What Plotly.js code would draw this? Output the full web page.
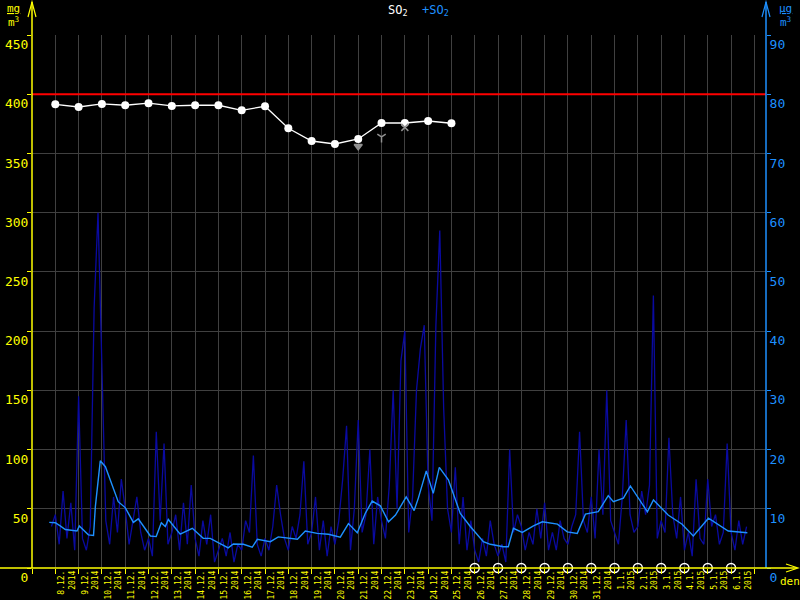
<!DOCTYPE html>
<html><head><meta charset="utf-8">
<script src="https://cdn.plot.ly/plotly-3.0.1.min.js"></script>
<style>html,body{margin:0;padding:0;background:#000;}#chart{width:800px;height:600px;}</style>
</head><body><div id="chart"></div>
<script>
// ---- data ----
const dayLabels = ['8.12.','9.12.','10.12.','11.12.','12.12.','13.12.','14.12.','15.12.','16.12.','17.12.','18.12.','19.12.','20.12.','21.12.','22.12.','23.12.','24.12.','25.12.','26.12.','27.12.','28.12.','29.12.','30.12.','31.12.','1.1.','2.1.','3.1.','4.1.','5.1.','6.1.'];
const dayYears = ['2014','2014','2014','2014','2014','2014','2014','2014','2014','2014','2014','2014','2014','2014','2014','2014','2014','2014','2014','2014','2014','2014','2014','2014','2015','2015','2015','2015','2015','2015'];

// daily values (left axis), one per day starting at day 0 = 8.12.2014
const dailyDay = [0,1,2,3,4,5,6,7,8,9,10,11,12,13,14,15,16,17];
const dailyVal = [391.5,389.2,391.8,390.7,392.4,390.1,390.7,390.7,386.4,389.8,371.2,360.5,358.0,362.2,375.7,375.7,377.4,375.5];

// days without daily value (marked on the axis)
const missingDay = [18,19,20,21,22,23,24,25,26,27,28,29];

// grey flags near the daily line
const flagDay = [13,14,15];
const flagVal = [356,364,372];

// limit
const limitVal = 400;

// 4-hourly values (right axis), first sample at day -1/6, step 1/6 day
const hourlyStart = -1/6;
const hourlyStep = 1/6;
const hourlyVal = [
7,
9,4,13,5,11,3,
29,5,3,7,44,60,
32,8,4,12,6,15,
10,4,8,12,6,3,
5,2,23,8,21,4,
6,9,3,11,4,14,
5,2,8,4,9,1,
3,5,2,6,1,4,
3,8,6,19,4,2,
5,3,7,14,9,5,
3,7,5,9,18,4,
6,12,3,8,2,7,
4,8,15,24,3,10,
25,6,9,20,4,12,
8,5,14,30,10,35,
40,6,12,30,37,41,
14,8,41,57,27,10,
6,17,4,12,3,8,
3,1,5,2,8,4,
2,4,1,20,6,9,
7,3,6,4,10,5,
11,3,6,3,8,5,
4,7,9,23,8,6,
12,5,20,9,30,8,
6,4,12,25,9,6,
7,13,9,14,46,5,
8,6,22,9,5,12,
3,6,2,15,5,4,
15,7,9,4,6,21,
6,3,8,4,7
];

// running mean (right axis)
const smoothDay = [-0.26,0,0.21,0.43,0.93,1.03,1.42,1.64,1.72,1.93,2.15,2.70,3.0,3.35,3.56,4.08,4.33,4.55,4.72,4.85,5.36,5.88,6.35,6.65,7.42,7.64,8.07,8.45,8.67,8.93,9.23,9.57,10.39,10.73,11.24,11.72,12.23,12.58,12.96,13.3,13.6,13.95,14.3,14.6,15.06,15.4,15.58,15.92,16.22,16.48,16.87,17.38,17.81,18.37,18.67,19.23,19.44,19.66,20.04,20.52,20.9,21.55,21.97,22.4,22.75,23.3,23.73,23.95,24.38,24.68,25.41,25.67,26.3,26.9,27.38,28.03,28.88,29.7];
const smoothVal = [7.7,7.65,7.1,6.5,6.25,7.1,5.6,5.5,10.4,18.1,17.1,11.2,10.2,7.7,8.3,5.4,5.3,7.65,7.0,8.2,5.7,6.7,5.0,5.0,3.4,4.05,4.0,3.5,4.85,4.7,4.45,5.25,4.85,6.25,5.85,5.7,5.2,7.5,5.95,9.2,11.3,10.5,7.8,8.95,12.0,9.7,11.8,16.4,12.6,17.0,14.9,9.2,7.0,4.45,4.0,3.6,3.6,6.7,6.0,7.1,7.8,7.4,6.1,5.85,9.1,9.5,12.2,11.2,11.8,13.85,9.5,11.5,8.95,7.4,5.4,8.4,6.25,5.95];

// ---- styles ----
const YEL = '#ffff00', BLU = '#1e90ff', GRID = '#404040';
const MONO = 'DejaVu Sans Mono';

const tickVals = dayLabels.map((_, i) => i + 0.5);
const tickText = dayLabels.map((d, i) => d + '<br>' + dayYears[i]);

const traces = [
  {x0: hourlyStart, dx: hourlyStep, y: hourlyVal, yaxis: 'y2', type: 'scatter', mode: 'lines',
   line: {color: '#0a0aa0', width: 1.3}, hoverinfo: 'skip'},
  {x: smoothDay, y: smoothVal, yaxis: 'y2', type: 'scatter', mode: 'lines',
   line: {color: BLU, width: 1.4}},
  {x: dailyDay, y: dailyVal, type: 'scatter', mode: 'lines+markers',
   line: {color: '#ffffff', width: 1.3}, marker: {color: '#ffffff', size: 8, symbol: 'circle'}},
  {x: flagDay, y: flagVal, type: 'scatter', mode: 'markers',
   marker: {color: '#909090', size: 7, symbol: ['triangle-down', 'y-down-open', 'x-thin-open'], line: {color: '#909090', width: 1.5}}},
  {x: missingDay, y: missingDay.map(() => 0), type: 'scatter', mode: 'markers', cliponaxis: false,
   marker: {color: 'rgba(0,0,0,0)', size: 9, symbol: 'circle', line: {color: '#ffffff', width: 1.5}}}
];

// paper helpers for axis arrows
const L = 32, R = 766, T = 35, B = 568;
const px = v => (v - L) / (R - L);
const py = v => (B - v) / (B - T);

const layout = {
  width: 800, height: 600,
  paper_bgcolor: '#000', plot_bgcolor: '#000',
  margin: {l: L, r: 800 - R, t: T, b: 600 - B},
  showlegend: false,
  font: {family: MONO, color: YEL},
  title: {text: 'SO<sub>2</sub>  <span style="color:' + BLU + '">+SO<sub>2</sub></span>',
          font: {family: MONO, size: 12, color: '#ffffff'}, x: 0.523, xanchor: 'center', y: 0.984, yanchor: 'middle'},
  xaxis: {
    range: [-1, 30.5], tickmode: 'array', tickvals: tickVals, ticktext: tickText, tickangle: -90,
    tickfont: {family: MONO, size: 8, color: YEL}, ticks: '', showgrid: false, zeroline: false,
    showline: false,
    minor: {tick0: 0, dtick: 1, showgrid: true, gridcolor: GRID, gridwidth: 1, ticks: 'outside', ticklen: 5, tickcolor: YEL}
  },
  yaxis: {
    range: [0, 450], dtick: 50, gridcolor: GRID, zeroline: false, showline: false,
    ticks: 'outside', ticklen: 4, tickcolor: YEL, ticklabelposition: 'outside bottom',
    tickfont: {family: MONO, size: 13, color: YEL}
  },
  yaxis2: {
    range: [0, 90], dtick: 10, overlaying: 'y', side: 'right', showgrid: false, zeroline: false,
    showline: false, ticks: 'outside', ticklen: 4, tickcolor: BLU, ticklabelposition: 'outside bottom',
    tickfont: {family: MONO, size: 13, color: BLU}
  },
  shapes: [
    {type: 'line', xref: 'paper', yref: 'y', x0: 0, x1: 1, y0: limitVal, y1: limitVal, line: {color: '#ff0000', width: 2}},
    // left axis with arrow
    {type: 'line', xref: 'paper', yref: 'paper', x0: 0, x1: 0, y0: 0, y1: py(2), line: {color: YEL, width: 1.5}},
    {type: 'path', xref: 'paper', yref: 'paper', path: `M ${px(28)},${py(17)} L ${px(32)},${py(2)} L ${px(36)},${py(17)}`, line: {color: YEL, width: 1.2}},
    // right axis with arrow
    {type: 'line', xref: 'paper', yref: 'paper', x0: 1, x1: 1, y0: 0, y1: py(2), line: {color: BLU, width: 1.5}},
    {type: 'path', xref: 'paper', yref: 'paper', path: `M ${px(762)},${py(17)} L ${px(766)},${py(2)} L ${px(770)},${py(17)}`, line: {color: BLU, width: 1.2}},
    // x axis with arrow
    {type: 'line', xref: 'paper', yref: 'paper', x0: px(0), x1: px(797), y0: 0, y1: 0, line: {color: YEL, width: 1.5}},
    {type: 'path', xref: 'paper', yref: 'paper', path: `M ${px(786)},${py(564)} L ${px(798)},${py(568)} L ${px(786)},${py(572)}`, line: {color: YEL, width: 1.2}}
  ],
  annotations: [
    {xref: 'paper', yref: 'paper', x: px(13), y: py(15), text: '<u>mg</u><br>m<sup>3</sup>', showarrow: false,
     font: {family: MONO, size: 11, color: YEL}, xanchor: 'center', yanchor: 'middle'},
    {xref: 'paper', yref: 'paper', x: px(785), y: py(15), text: '<u>µg</u><br>m<sup>3</sup>', showarrow: false,
     font: {family: MONO, size: 11, color: BLU}, xanchor: 'center', yanchor: 'middle'},
    {xref: 'paper', yref: 'paper', x: px(790), y: py(581), text: 'den', showarrow: false,
     font: {family: MONO, size: 11, color: YEL}, xanchor: 'center', yanchor: 'middle'}
  ]
};

Plotly.newPlot('chart', traces, layout, {displayModeBar: false, staticPlot: true});
</script></body></html>
